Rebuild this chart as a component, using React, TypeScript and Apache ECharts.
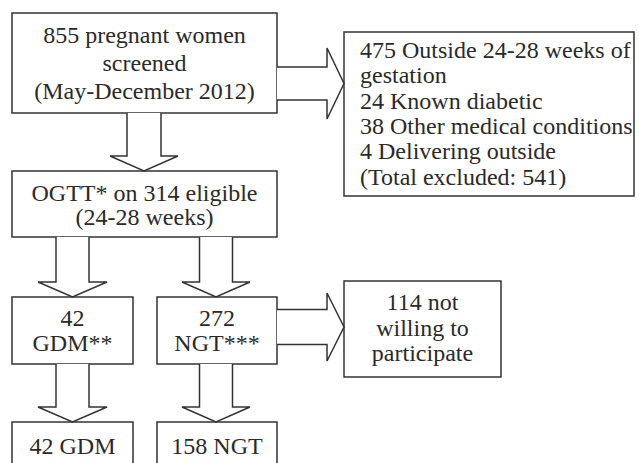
import React, { useEffect, useRef } from "react";
import * as echarts from "echarts";

// Flowchart content
const screenedLines = ["855 pregnant women", "screened", "(May-December 2012)"];
const eligibleLines = ["OGTT* on 314 eligible", "(24-28 weeks)"];
const excludedLines = [
  "475 Outside 24-28 weeks of",
  "gestation",
  "24 Known diabetic",
  "38 Other medical conditions",
  "4 Delivering outside",
  "(Total excluded: 541)",
];
const gdmLines = ["42", "GDM**"];
const ngtLines = ["272", "NGT***"];
const notWillingLines = ["114 not", "willing to", "participate"];
const finalGdmLines = ["42 GDM"];
const finalNgtLines = ["158 NGT"];

const LINE = "#333333";
const TEXT = "#2a2a2a";
const FONT = "Liberation Serif, Times New Roman, Times, DejaVu Serif, serif";

type Box = { x: number; y: number; w: number; h: number; lines: string[]; ys: number[]; align?: "left" | "center"; tx?: number };

export default function App() {
  const ref = useRef<HTMLDivElement>(null);
  useEffect(() => {
    if (!ref.current) return;
    const chart = echarts.init(ref.current, null, { renderer: "svg" });

    const boxes: Box[] = [
      { x: 12, y: 13, w: 265, h: 100, lines: screenedLines, ys: [35, 63, 91] },
      { x: 12, y: 171, w: 265, h: 66, lines: eligibleLines, ys: [193, 217] },
      { x: 344, y: 32, w: 290, h: 164, lines: excludedLines, ys: [50, 75, 101, 126, 151, 177], align: "left", tx: 360 },
      { x: 12, y: 297, w: 121, h: 67, lines: gdmLines, ys: [318, 343] },
      { x: 157, y: 297, w: 120, h: 67, lines: ngtLines, ys: [318, 343] },
      { x: 344, y: 281, w: 157, h: 96, lines: notWillingLines, ys: [302, 328, 353] },
      { x: 12, y: 422, w: 121, h: 60, lines: finalGdmLines, ys: [446] },
      { x: 157, y: 422, w: 120, h: 60, lines: finalNgtLines, ys: [446] },
    ];

    const elements: any[] = [];
    boxes.forEach((b) => {
      elements.push({
        type: "rect",
        shape: { x: b.x, y: b.y, width: b.w, height: b.h },
        style: { fill: "#fff", stroke: LINE, lineWidth: 1.5 },
      });
      b.lines.forEach((t, i) => {
        const left = b.align === "left";
        elements.push({
          type: "text",
          x: left ? b.tx : b.x + b.w / 2,
          y: b.ys[i],
          style: {
            text: t,
            fontFamily: FONT,
            fontSize: 24,
            fill: TEXT,
            textAlign: left ? "left" : "center",
            textVerticalAlign: "middle",
          },
        });
      });
    });

    const down = (cx: number, y0: number, hy: number, tip: number, s: number, h: number) => ({
      type: "polyline",
      shape: {
        points: [
          [cx - s, y0], [cx - s, hy], [cx - h, hy], [cx, tip],
          [cx + h, hy], [cx + s, hy], [cx + s, y0],
        ],
      },
      style: { fill: "#fff", stroke: LINE, lineWidth: 1.5 },
    });
    const right = (x0: number, hx: number, tip: number, cy: number, s: number, h: number) => ({
      type: "polyline",
      shape: {
        points: [
          [x0, cy - s], [hx, cy - s], [hx, cy - h], [tip, cy],
          [hx, cy + h], [hx, cy + s], [x0, cy + s],
        ],
      },
      style: { fill: "#fff", stroke: LINE, lineWidth: 1.5 },
    });

    elements.push(down(144, 113, 156, 171, 17, 34));
    elements.push(down(72.5, 237, 282, 297, 16.5, 34.5));
    elements.push(down(216, 237, 282, 297, 16.5, 34));
    elements.push(down(72.5, 364, 407, 422, 16.5, 34.5));
    elements.push(down(216, 364, 407, 422, 16.5, 34));
    elements.push(right(277, 327, 344, 83.5, 16.5, 35.5));
    elements.push(right(277, 327, 344, 327, 17.5, 34));

    chart.setOption({
      animation: false,
      backgroundColor: "#fff",
      graphic: { elements },
    });
    return () => chart.dispose();
  }, []);
  return (
    <div
      ref={ref}
      style={{ position: "fixed", left: 0, top: 0, width: 639, height: 463, background: "#fff" }}
    />
  );
}
